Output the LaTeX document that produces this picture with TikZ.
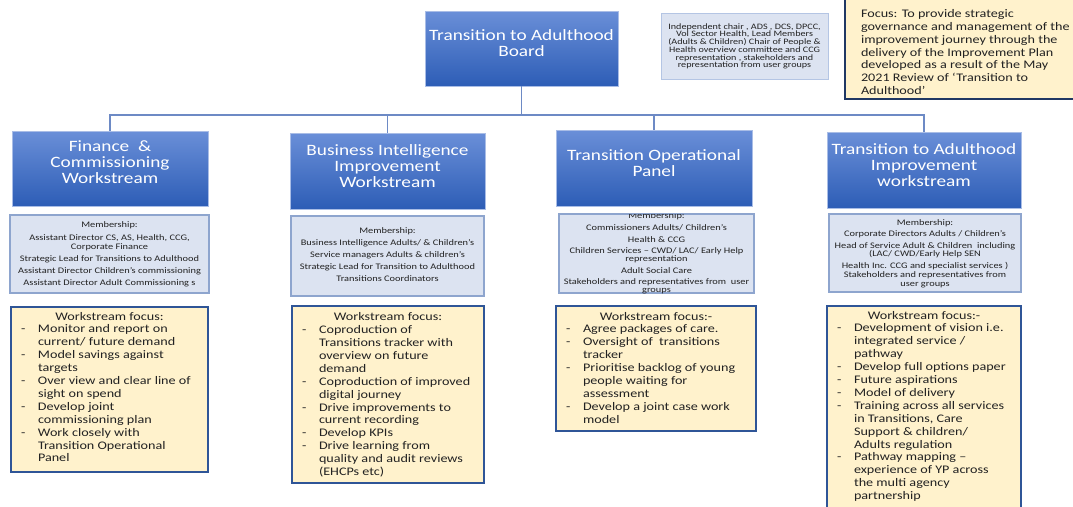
\documentclass[tikz,border=0pt]{standalone}
\usepackage{fontspec}
\setmainfont[FakeStretch=1.22]{Carlito}
\definecolor{wsTop}{HTML}{6A8FD8}
\definecolor{wsBot}{HTML}{2D5DB6}
\definecolor{wsEdge}{HTML}{A9BDE6}
\definecolor{memFill}{HTML}{DCE3F1}
\definecolor{memEdge}{HTML}{8EA5CE}
\definecolor{infoEdge}{HTML}{B4C5E4}
\definecolor{focFill}{HTML}{FFF2CC}
\definecolor{focEdge}{HTML}{2F5597}
\definecolor{topEdge}{HTML}{203864}
\definecolor{connCol}{HTML}{6D8AC5}
\definecolor{txt}{HTML}{222222}
\newcommand\fsz[2]{\fontsize{#1}{#2}\selectfont}
\newcommand\dashitem{\makebox[17pt][l]{-}}
\newcommand\contline{\hspace*{17pt}}
\begin{document}
\begin{tikzpicture}[x=1pt,y=-1pt,
  every node/.style={inner sep=0pt, outer sep=0pt},
  wsbox/.style={anchor=north west, rectangle, top color=wsTop, bottom color=wsBot, draw=wsEdge, line width=0.6pt},
  membox/.style={anchor=north west, rectangle, fill=memFill, draw=memEdge, line width=1.1pt},
  infobox/.style={anchor=north west, rectangle, fill=memFill, draw=infoEdge, line width=0.9pt},
  focbox/.style={anchor=north west, rectangle, fill=focFill, draw=focEdge, line width=1.4pt},
  wstext/.style={anchor=north, align=center, text=white, font=\fsz{15.8}{16}},
  memtext/.style={anchor=north, align=center, text=txt, font=\fsz{8.5}{8.3}},
  infotext/.style={anchor=north, align=center, text=txt, font=\fsz{8.3}{7.7}},
  foclist/.style={anchor=north west, align=left, text=txt, font=\fsz{11.6}{12.9}},
  conn/.style={draw=connCol, line width=1.6pt},
]
\useasboundingbox (0,0) rectangle (1073,506);
\fill[white] (0,0) rectangle (1073,506);
\clip (0,0) rectangle (1073,506);

% ---------- boxes ----------
\node[wsbox, minimum width=193pt, minimum height=75pt] (board) at (425,11) {};
\node[infobox, minimum width=167pt, minimum height=66pt] (info) at (661,13) {};
\node[focbox, draw=topEdge, minimum width=240pt, minimum height=103pt] (topfoc) at (845,-4) {};

\node[wsbox, minimum width=196pt, minimum height=75pt] (w1) at (12,131) {};
\node[wsbox, minimum width=195pt, minimum height=76pt] (w2) at (290,133) {};
\node[wsbox, minimum width=196pt, minimum height=76pt] (w3) at (556,130) {};
\node[wsbox, minimum width=194pt, minimum height=76pt] (w4) at (827,132) {};

\node[membox, minimum width=199pt, minimum height=78pt] (m1) at (10,215) {};
\node[membox, minimum width=193pt, minimum height=80pt] (m2) at (291,216) {};
\node[membox, minimum width=195pt, minimum height=79pt] (m3) at (559,214) {};
\node[membox, minimum width=192pt, minimum height=78pt] (m4) at (829,214) {};

\node[focbox, minimum width=197pt, minimum height=165pt] (f1) at (11,307) {};
\node[focbox, minimum width=192pt, minimum height=177pt] (f2) at (292,306) {};
\node[focbox, minimum width=200pt, minimum height=125pt] (f3) at (556,306) {};
\node[focbox, minimum width=194pt, minimum height=220pt] (f4) at (827,306) {};

% ---------- connectors ----------
\coordinate (bus) at (0,115);
\draw[conn] (board.south) -- (board.south |- bus);
\draw[conn] (w1.north) -- (w1.north |- bus) -- (w4.north |- bus) -- (w4.north);
\draw[conn] (w2.north) -- (w2.north |- bus);
\draw[conn] (w3.north) -- (w3.north |- bus);

% ---------- titles ----------
\node[wstext] (board-t) at (521.5,27) {\rule{0pt}{13pt}Transition to Adulthood\\Board};
\node[wstext] (w1-t) at (110,138.7) {\rule{0pt}{13pt}Finance\ \ \&\\Commissioning\\Workstream};
\node[wstext] (w2-t) at (387.5,142.7) {\rule{0pt}{13pt}Business Intelligence\\Improvement\\Workstream};
\node[wstext] (w3-t) at (654,147.3) {\rule{0pt}{13pt}Transition Operational\\Panel};
\node[wstext] (w4-t) at (924,141.3) {\rule{0pt}{13pt}Transition to Adulthood\\Improvement\\workstream};

% ---------- info texts ----------
\node[infotext] (info-t) at (744.5,22.2) {\rule{0pt}{7pt}Independent chair , ADS , DCS, DPCC,\\Vol Sector Health, Lead Members\\(Adults \& Children) Chair of People \&\\Health overview committee and CCG\\representation , stakeholders and\\representation from user groups};
\node[foclist] (topfoc-t) at (861,7.3) {\rule{0pt}{10pt}Focus: To provide strategic\\governance and management of the\\improvement journey through the\\delivery of the Improvement Plan\\developed as a result of the May\\2021 Review of ‘Transition to\\Adulthood’};

% ---------- membership ----------
\node[memtext] (m1-t) at (109.5,220.5) {\rule{0pt}{7pt}Membership:\\[5pt]Assistant Director CS, AS, Health, CCG,\\Corporate Finance\\[4.4pt]Strategic Lead for Transitions to Adulthood\\[3pt]Assistant Director Children’s commissioning\\[3.7pt]Assistant Director Adult Commissioning s};
\node[memtext] (m2-t) at (387.5,226.5) {\rule{0pt}{7pt}Membership:\\[3.8pt]Business Intelligence Adults/ \& Children’s\\[3.6pt]Service managers Adults \& children’s\\[3.6pt]Strategic Lead for Transition to Adulthood\\[3.4pt]Transitions Coordinators};
\begin{scope}
\clip (m3.north west) rectangle (m3.south east);
\node[memtext] (m3-t) at (656.5,211.2) {\rule{0pt}{7pt}Membership:\\[4.3pt]Commissioners Adults/ Children’s\\[3.4pt]Health \& CCG\\[2.7pt]Children Services – CWD/ LAC/ Early Help\\representation\\[3pt]Adult Social Care\\[3.1pt]Stakeholders and representatives from\ \ user\\groups};
\end{scope}
\node[memtext] (m4-t) at (925,218.8) {\rule{0pt}{7pt}Membership:\\[2.7pt]Corporate Directors Adults / Children’s\\[3.1pt]Head of Service Adult \& Children\ \ including\\(LAC/ CWD/Early Help SEN\\[4pt]Health Inc. CCG and specialist services )\\[0.7pt]Stakeholders and representatives from\\[0.4pt]user groups};

% ---------- focus lists ----------
\node[foclist] (f1-t) at (21,310) {\rule{0pt}{10pt}\makebox[177pt][c]{Workstream focus:}\\
\dashitem Monitor and report on\\\contline current/ future demand\\
\dashitem Model savings against\\\contline targets\\
\dashitem Over view and clear line of\\\contline sight on spend\\
\dashitem Develop joint\\\contline commissioning plan\\
\dashitem Work closely with\\\contline Transition Operational\\\contline Panel};
\node[foclist] (f2-t) at (302,310.7) {\rule{0pt}{10pt}\makebox[172pt][c]{Workstream focus:}\\
\dashitem Coproduction of\\\contline Transitions tracker with\\\contline overview on future\\\contline demand\\
\dashitem Coproduction of improved\\\contline digital journey\\
\dashitem Drive improvements to\\\contline current recording\\
\dashitem Develop KPIs\\
\dashitem Drive learning from\\\contline quality and audit reviews\\\contline (EHCPs etc)};
\node[foclist] (f3-t) at (566,310) {\rule{0pt}{10pt}\makebox[180pt][c]{Workstream focus:-}\\
\dashitem Agree packages of care.\\
\dashitem Oversight of\ \ transitions\\\contline tracker\\
\dashitem Prioritise backlog of young\\\contline people waiting for\\\contline assessment\\
\dashitem Develop a joint case work\\\contline model};
\node[foclist] (f4-t) at (837,309) {\rule{0pt}{10pt}\makebox[174pt][c]{Workstream focus:-}\\
\dashitem Development of vision i.e.\\\contline integrated service /\\\contline pathway\\
\dashitem Develop full options paper\\
\dashitem Future aspirations\\
\dashitem Model of delivery\\
\dashitem Training across all services\\\contline in Transitions, Care\\\contline Support \& children/\\\contline Adults regulation\\
\dashitem Pathway mapping –\\\contline experience of YP across\\\contline the multi agency\\\contline partnership};
\end{tikzpicture}
\end{document}
